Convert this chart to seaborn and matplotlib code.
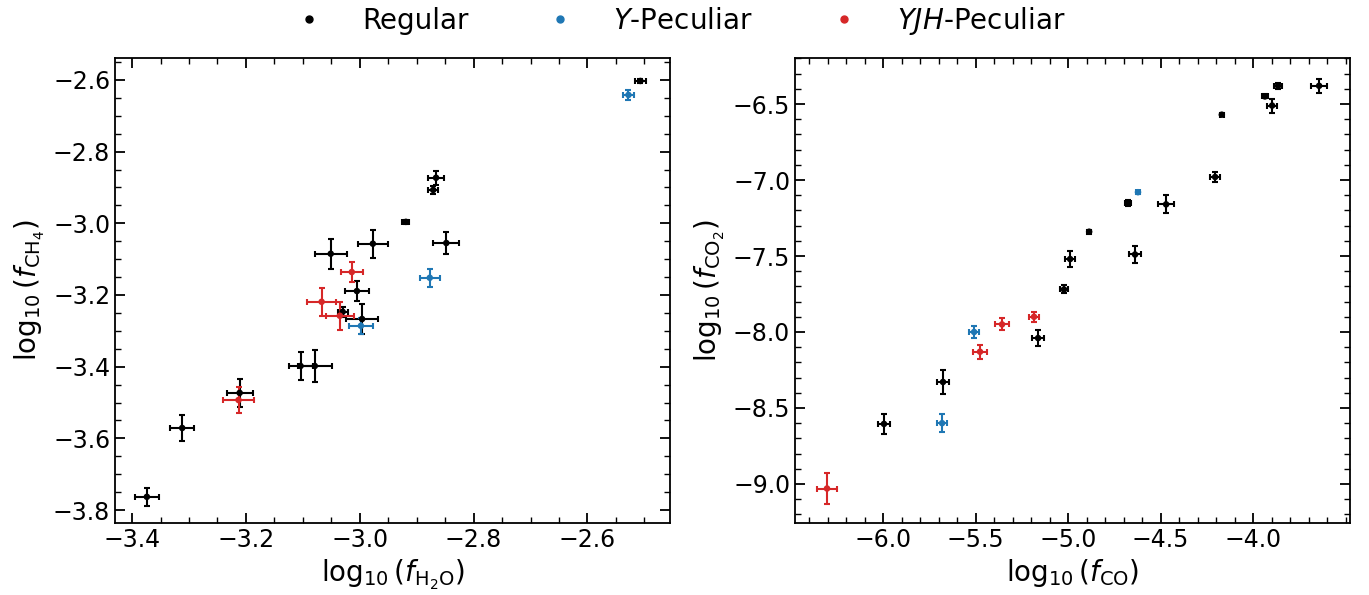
import numpy as np
import pandas as pd
import matplotlib
matplotlib.use("Agg")
import matplotlib.pyplot as plt
import seaborn as sns
from matplotlib.lines import Line2D

# ---- Left panel data: log10 f_H2O vs log10 f_CH4 ----
reg_h2o = [-3.374, -3.312, -3.211, -3.104, -3.079, -3.030, -2.996, -3.005, -3.051, -2.977, -2.919, -2.866, -2.871, -2.848, -2.507]
reg_h2o_err = [0.021, 0.021, 0.023, 0.021, 0.030, 0.009, 0.028, 0.021, 0.028, 0.026, 0.006, 0.014, 0.009, 0.023, 0.009]
reg_ch4 = [-3.763, -3.571, -3.473, -3.398, -3.398, -3.247, -3.267, -3.189, -3.085, -3.057, -2.996, -2.873, -2.907, -3.055, -2.603]
reg_ch4_err = [0.025, 0.036, 0.039, 0.039, 0.045, 0.014, 0.042, 0.028, 0.042, 0.039, 0.005, 0.020, 0.011, 0.031, 0.005]

ypec_h2o = [-2.528, -2.877, -2.998]
ypec_h2o_err = [0.009, 0.018, 0.021]
ypec_ch4 = [-2.642, -3.152, -3.286]
ypec_ch4_err = [0.014, 0.025, 0.022]

yjh_h2o = [-3.014, -3.067, -3.035, -3.213]
yjh_h2o_err = [0.019, 0.025, 0.025, 0.028]
yjh_ch4 = [-3.136, -3.219, -3.258, -3.493]
yjh_ch4_err = [0.028, 0.039, 0.039, 0.036]

# ---- Right panel data: log10 f_CO vs log10 f_CO2 ----
reg_co = [-5.995, -5.676, -5.162, -5.022, -4.989, -4.886, -4.638, -4.676, -4.470, -4.205, -4.169, -3.936, -3.897, -3.865, -3.643]
reg_co_err = [0.032, 0.032, 0.032, 0.022, 0.027, 0.012, 0.032, 0.016, 0.043, 0.027, 0.010, 0.016, 0.027, 0.022, 0.043]
reg_co2 = [-8.605, -8.329, -8.040, -7.720, -7.520, -7.340, -7.490, -7.150, -7.160, -6.980, -6.570, -6.450, -6.510, -6.380, -6.380]
reg_co2_err = [0.066, 0.079, 0.053, 0.026, 0.053, 0.013, 0.053, 0.020, 0.059, 0.033, 0.010, 0.013, 0.046, 0.020, 0.046]

ypec_co = [-4.622, -5.681, -5.508]
ypec_co_err = [0.010, 0.027, 0.027]
ypec_co2 = [-7.080, -8.600, -8.000]
ypec_co2_err = [0.010, 0.059, 0.040]

yjh_co = [-6.303, -5.476, -5.357, -5.184]
yjh_co_err = [0.054, 0.038, 0.038, 0.027]
yjh_co2 = [-9.030, -8.130, -7.950, -7.900]
yjh_co2_err = [0.099, 0.046, 0.040, 0.033]

labels = ["Regular", "$Y$-Peculiar", "$YJH$-Peculiar"]
colors = ["black", "#1f77b4", "#d62728"]

sns.set_style("ticks")
plt.rcParams["font.family"] = ["DejaVu Sans"]
plt.rcParams["mathtext.fontset"] = "dejavusans"
plt.rcParams["text.color"] = "black"
plt.rcParams["axes.labelcolor"] = "black"
plt.rcParams["xtick.color"] = "black"
plt.rcParams["ytick.color"] = "black"
plt.rcParams["axes.edgecolor"] = "black"

fig = plt.figure(figsize=(13.69, 5.95), dpi=100)
ax1 = fig.add_axes([115 / 1369, 0.121, 555 / 1369, 0.7815])
ax2 = fig.add_axes([795 / 1369, 0.121, 555 / 1369, 0.7815])

left_sets = [
    (reg_h2o, reg_h2o_err, reg_ch4, reg_ch4_err),
    (ypec_h2o, ypec_h2o_err, ypec_ch4, ypec_ch4_err),
    (yjh_h2o, yjh_h2o_err, yjh_ch4, yjh_ch4_err),
]
right_sets = [
    (reg_co, reg_co_err, reg_co2, reg_co2_err),
    (ypec_co, ypec_co_err, ypec_co2, ypec_co2_err),
    (yjh_co, yjh_co_err, yjh_co2, yjh_co2_err),
]

for ax, sets in [(ax1, left_sets), (ax2, right_sets)]:
    for (x, xe, y, ye), c, lab in zip(sets, colors, labels):
        ax.errorbar(x, y, xerr=xe, yerr=ye, fmt="none", ecolor=c,
                    elinewidth=1.5, capsize=2.5, capthick=1.5, zorder=2)
        df = pd.DataFrame({"x": x, "y": y})
        sns.scatterplot(data=df, x="x", y="y", ax=ax, color=c, s=22,
                        edgecolor="none", zorder=3, legend=False)

ax1.set_xlim(-3.43, -2.455)
ax1.set_ylim(-3.836, -2.539)
ax1.set_xticks([-3.4, -3.2, -3.0, -2.8, -2.6])
ax1.set_yticks([-3.8, -3.6, -3.4, -3.2, -3.0, -2.8, -2.6])
ax1.set_xlabel(r"$\log_{10}(f_{\mathrm{H_2O}})$", fontsize=20)
ax1.set_ylabel(r"$\log_{10}(f_{\mathrm{CH_4}})$", fontsize=20)

ax2.set_xlim(-6.476, -3.476)
ax2.set_ylim(-9.257, -6.197)
ax2.set_xticks([-6.0, -5.5, -5.0, -4.5, -4.0])
ax2.set_yticks([-9.0, -8.5, -8.0, -7.5, -7.0, -6.5])
ax2.set_xlabel(r"$\log_{10}(f_{\mathrm{CO}})$", fontsize=20)
ax2.set_ylabel(r"$\log_{10}(f_{\mathrm{CO_2}})$", fontsize=20)

for ax in (ax1, ax2):
    ax.minorticks_on()
    ax.tick_params(which="both", direction="in", top=True, right=True,
                   labelsize=17, colors="black")
    ax.tick_params(which="major", length=7, width=1.3)
    ax.tick_params(which="minor", length=4, width=1.0)
    for sp in ax.spines.values():
        sp.set_linewidth(1.3)
        sp.set_color("black")

handles = [Line2D([], [], marker="o", color=c, linestyle="none", markersize=5)
           for c in colors]
fig.legend(handles, labels, loc="center", bbox_to_anchor=(0.492, 1 - 21 / 595),
           ncol=3, frameon=False, fontsize=20, handletextpad=0.9,
           columnspacing=2.3, borderaxespad=0)

fig.savefig("out.png", dpi=100)
